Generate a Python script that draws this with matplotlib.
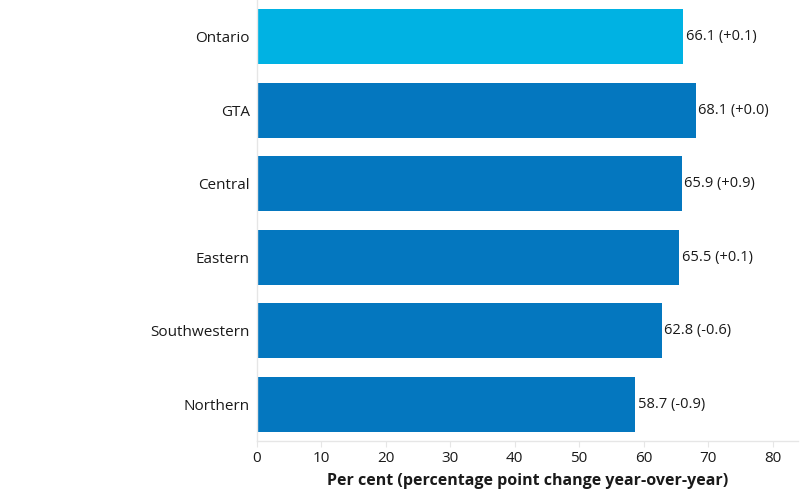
import matplotlib.pyplot as plt

regions = ['Ontario', 'GTA', 'Central', 'Eastern', 'Southwestern', 'Northern']
rates = [66.1, 68.1, 65.9, 65.5, 62.8, 58.7]
changes = ['+0.1', '+0.0', '+0.9', '+0.1', '-0.6', '-0.9']
bar_colors = ['#00b2e3', '#0477bf', '#0477bf', '#0477bf', '#0477bf', '#0477bf']

plt.rcParams['font.family'] = ['Open Sans', 'DejaVu Sans']

fig = plt.figure(figsize=(8, 5), dpi=100)
ax = fig.add_axes([0.321, 0.118, 0.677, 0.882])

ypos = list(range(len(regions)))
ax.barh(ypos, rates, height=0.75, color=bar_colors)

for y, v, c in zip(ypos, rates, changes):
    ax.text(v + 0.4, y, f'{v:.1f} ({c})', va='center', ha='left',
            fontsize=10.5, color='#1a1a1a')

ax.set_yticks(ypos)
ax.set_yticklabels(regions, fontsize=11, color='#1a1a1a')
ax.set_ylim(5.5, -0.5)
ax.set_xlim(0, 84)
ax.set_xticks(range(0, 81, 10))
ax.tick_params(axis='x', labelsize=11, colors='#1a1a1a', length=4,
               color='#e6e6e6', pad=3)
ax.tick_params(axis='y', length=0, pad=5)

for s in ['top', 'right']:
    ax.spines[s].set_visible(False)
for s in ['left', 'bottom']:
    ax.spines[s].set_color('#e6e6e6')
    ax.spines[s].set_linewidth(1)

ax.set_xlabel('Per cent (percentage point change year-over-year)',
              fontsize=11.5, fontweight='bold', color='#1a1a1a', labelpad=5)

fig.savefig('out.png', dpi=100)
